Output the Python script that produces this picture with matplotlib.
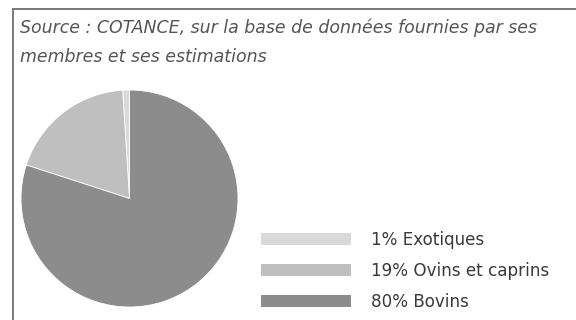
import matplotlib.pyplot as plt
from matplotlib.patches import Patch
from matplotlib.lines import Line2D

# Share of hides by animal type
categories = ["Exotiques", "Ovins et caprins", "Bovins"]
shares = [1, 19, 80]
colors = ["#d9d9d9", "#bfbfbf", "#8c8c8c"]
source_lines = ["Source : COTANCE, sur la base de données fournies par ses",
                "membres et ses estimations"]

W, H = 576, 320
fig = plt.figure(figsize=(W / 100, H / 100), dpi=100)
fig.patch.set_facecolor("white")

# Frame: top and left rules
frame_col = "#7a7a7a"
fig.add_artist(Line2D([12.5 / W, 1.0], [1 - 8.5 / H, 1 - 8.5 / H],
                      transform=fig.transFigure, color=frame_col, lw=1.4))
fig.add_artist(Line2D([12.5 / W, 12.5 / W], [0, 1 - 8.5 / H],
                      transform=fig.transFigure, color=frame_col, lw=1.4))

# Source note
for i, line in enumerate(source_lines):
    fig.text(20 / W, 1 - (33 + 29 * i) / H, line, fontsize=12.5,
             style="italic", family="DejaVu Sans", color="#555555", va="baseline")

# Pie
left, right, top, bottom = 21, 238, 90, 307
ax = fig.add_axes([left / W, 1 - bottom / H, (right - left) / W, (bottom - top) / H])
ax.pie(shares, colors=colors, startangle=90, counterclock=True,
       wedgeprops=dict(edgecolor="white", linewidth=0.6))
ax.set_xlim(-1, 1)
ax.set_ylim(-1, 1)
ax.set_aspect("equal")
ax.axis("off")

# Legend (largest share at the bottom)
handles = [Patch(facecolor=c, edgecolor="none") for c in colors]
labels = [f"{s}% {c}" for s, c in zip(shares, categories)]
fig.legend(handles, labels, loc="upper left", bbox_to_anchor=(261 / W, 1 - 231 / H),
           frameon=False, prop=dict(family="DejaVu Sans", size=12.1),
           labelcolor="#3a3a3a", handlelength=5.35, handleheight=0.72,
           handletextpad=1.2, labelspacing=0.76, borderaxespad=0, borderpad=0)

fig.savefig("out.png", dpi=100)
